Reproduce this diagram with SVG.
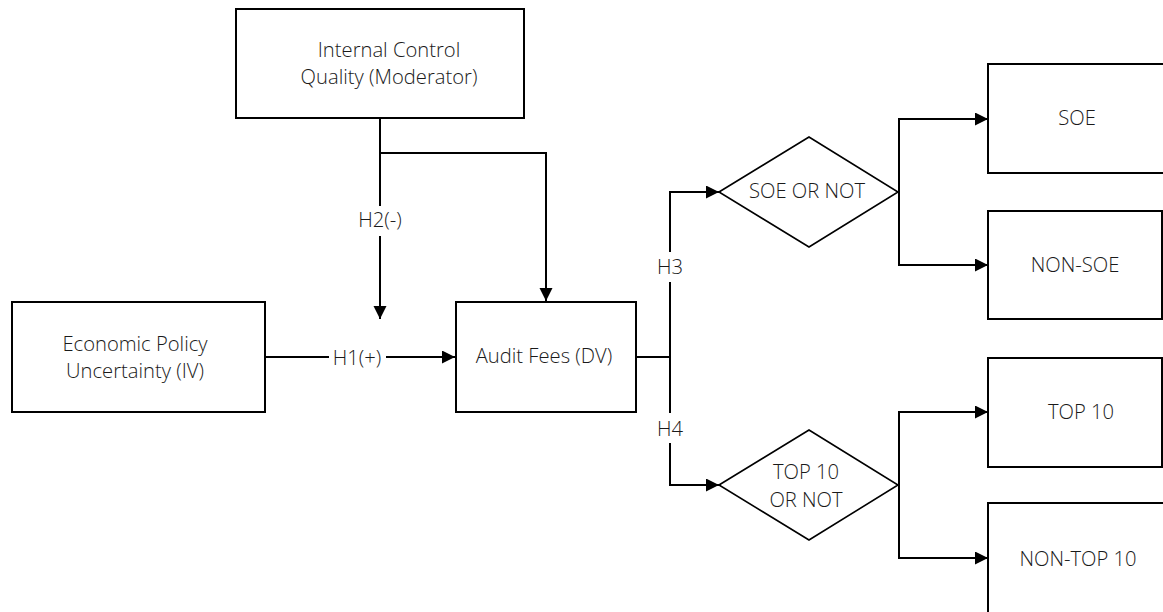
<svg xmlns="http://www.w3.org/2000/svg" width="1163" height="612" viewBox="0 0 1163 612">
<style>
.box{fill:#fff;stroke:#000;stroke-width:2}
.dia{fill:#fff;stroke:#000;stroke-width:1.6}
.ln{fill:none;stroke:#000;stroke-width:2}
.t{font-family:"Open Sans","Liberation Sans",sans-serif;font-size:20.2px;font-weight:300;fill:#1a1a1a;text-anchor:middle}
</style>
<defs>
<marker id="arr" markerUnits="userSpaceOnUse" markerWidth="14" markerHeight="14" refX="13" refY="6.5" orient="auto">
<path d="M0,0 L13,6.5 L0,13 z" fill="#000"/>
</marker>
</defs>
<rect width="1163" height="612" fill="#fff"/>
<g id="connectors">
<path class="ln" d="M380,118 V206"/>
<path class="ln" d="M380,236 V319" marker-end="url(#arr)"/>
<path class="ln" d="M380,153 H546 V301" marker-end="url(#arr)"/>
<path class="ln" d="M265,357 H329"/>
<path class="ln" d="M386,357 H455" marker-end="url(#arr)"/>
<path class="ln" d="M636,357 H670"/>
<path class="ln" d="M670,282 V413"/>
<path class="ln" d="M670,252 V192 H719" marker-end="url(#arr)"/>
<path class="ln" d="M670,443 V485 H719" marker-end="url(#arr)"/>
<path class="ln" d="M898,192 H899 V119 H988" marker-end="url(#arr)"/>
<path class="ln" d="M899,192 V265 H988" marker-end="url(#arr)"/>
<path class="ln" d="M898,485 H899 V412 H988" marker-end="url(#arr)"/>
<path class="ln" d="M899,485 V558 H988" marker-end="url(#arr)"/>
<text class="t" x="380" y="227">H2(-)</text>
<text class="t" x="357" y="365">H1(+)</text>
<text class="t" x="670" y="274">H3</text>
<text class="t" x="670" y="436">H4</text>
</g>
<g id="moderator">
<rect class="box" x="236" y="9" width="288" height="109"/>
<text class="t" x="389" y="57">Internal Control</text>
<text class="t" x="389" y="84">Quality (Moderator)</text>
</g>
<g id="iv">
<rect class="box" x="12" y="302" width="253" height="110"/>
<text class="t" x="135" y="351">Economic Policy</text>
<text class="t" x="135" y="378">Uncertainty (IV)</text>
</g>
<g id="dv">
<rect class="box" x="456" y="302" width="180" height="110"/>
<text class="t" x="544" y="363">Audit Fees (DV)</text>
</g>
<g id="soe-or-not">
<polygon class="dia" points="719,192 809,137 898,192 809,247"/>
<text class="t" x="807" y="198">SOE OR NOT</text>
</g>
<g id="top10-or-not">
<polygon class="dia" points="719,485 809,430 898,485 809,540"/>
<text class="t" x="806" y="479">TOP 10</text>
<text class="t" x="806" y="507">OR NOT</text>
</g>
<g id="soe">
<rect class="box" x="988" y="64" width="176" height="109"/>
<text class="t" x="1077" y="125">SOE</text>
</g>
<g id="non-soe">
<rect class="box" x="988" y="211" width="174" height="108"/>
<text class="t" x="1075" y="272">NON-SOE</text>
</g>
<g id="top10">
<rect class="box" x="988" y="358" width="174" height="109"/>
<text class="t" x="1081" y="419">TOP 10</text>
</g>
<g id="non-top10">
<rect class="box" x="988" y="503" width="176" height="110"/>
<text class="t" x="1078" y="566">NON-TOP 10</text>
</g>
</svg>
